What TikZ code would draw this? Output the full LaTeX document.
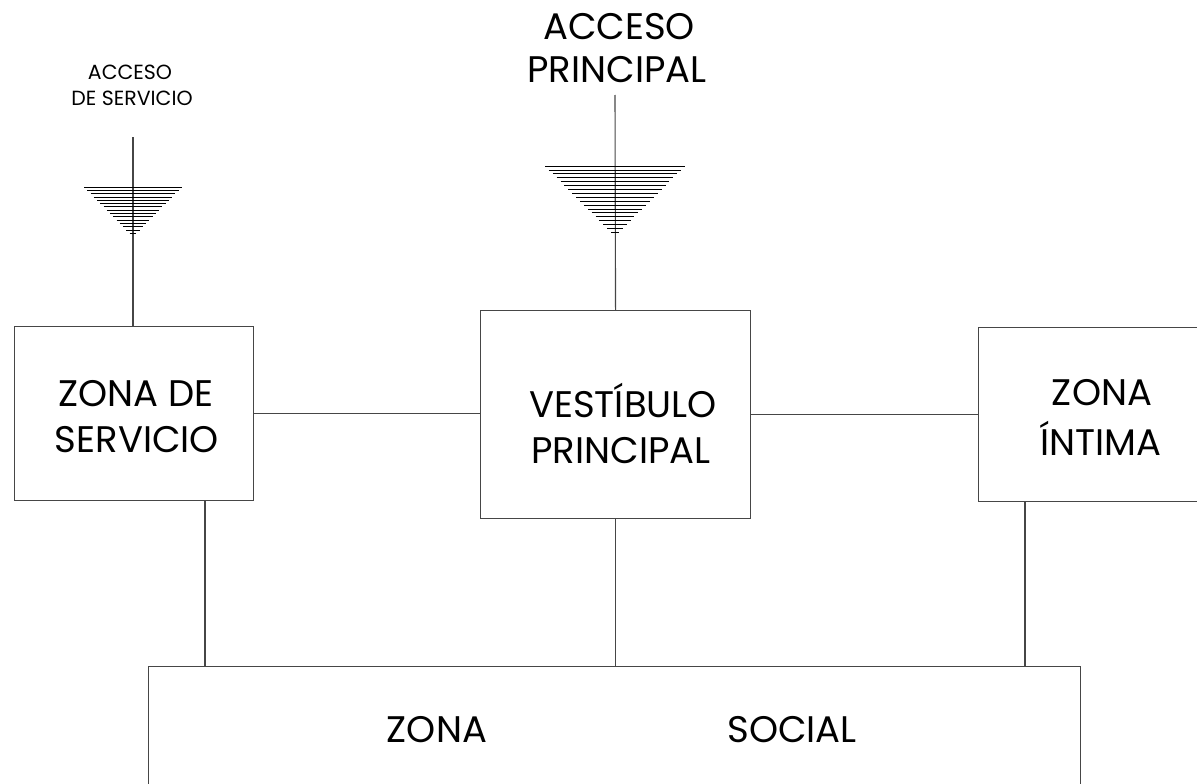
\documentclass[tikz,border=0pt]{standalone}
\usepackage{fontspec}
\setmainfont{Poppins}
\definecolor{edge}{RGB}{70,70,70}
\begin{document}
\begin{tikzpicture}[x=1pt,y=-1pt,
  zone/.style={draw=edge,line width=1.1pt,rectangle,inner sep=0pt,anchor=north west},
  link/.style={draw=edge,line width=1.1pt},
  hatch/.style={draw=black,line width=0.8pt},
  boxtext/.style={font=\fontsize{37}{47}\selectfont,inner sep=0pt,anchor=base},
  smalltext/.style={font=\fontsize{20.5}{26}\selectfont,inner sep=0pt,anchor=base}]
\useasboundingbox (0,0) rectangle (1197,784);
\clip (0,0) rectangle (1197,784);
% boxes
\node[zone,minimum width=239pt,minimum height=174pt] (serv) at (14,326) {};
\node[zone,minimum width=270pt,minimum height=208pt] (vest) at (480,310) {};
\node[zone,minimum width=250pt,minimum height=174pt] (intima) at (978,327) {};
\node[zone,minimum width=932pt,minimum height=160pt] (social) at (148,666) {};
% texts
\node[boxtext] (serv1) at (136,406) {ZONA DE};
\node[boxtext] (serv2) at (137,452) {SERVICIO};
\node[boxtext] (vest1) at (623,417) {VESTÍBULO};
\node[boxtext] (vest2) at (621,463) {PRINCIPAL};
\node[boxtext] (int1) at (1102,405) {ZONA};
\node[boxtext] (int2) at (1101,455) {ÍNTIMA};
\node[boxtext] (soc1) at (437,742) {ZONA};
\node[boxtext] (soc2) at (792,742) {SOCIAL};
\node[smalltext] (acs1) at (130,79) {ACCESO};
\node[smalltext] (acs2) at (132,105) {DE SERVICIO};
\node[boxtext] (acp1) at (619,40) {ACCESO};
\node[boxtext] (acp2) at (617,83) {PRINCIPAL};
% connectors
\draw[link] (serv.east) -- (serv.east -| vest.west);
\draw[link] (vest.east |- intima.west) -- (intima.west);
\coordinate (sv) at (205,500);
\coordinate (it) at (1025,501);
\draw[link] (sv) -- (sv |- social.north);
\draw[link] (vest.south) -- (vest.south |- social.north);
\draw[link] (it) -- (it |- social.north);
\coordinate (ts) at (133,137);
\coordinate (tp) at (615,95);
\draw[link] (ts) -- (ts |- serv.north);
\draw[link] (tp) -- (vest.north);
% hatched triangles
\foreach \i in {0,...,14}{
  \pgfmathsetmacro{\yy}{187+\i*3.3}
  \pgfmathsetmacro{\hw}{49*(1-\i/15)}
  \draw[hatch] (133-\hw,\yy) -- (133+\hw,\yy);
}
\foreach \i in {0,...,17}{
  \pgfmathsetmacro{\yy}{166+\i*3.9}
  \pgfmathsetmacro{\hw}{70*(1-\i/18)}
  \draw[hatch] (615-\hw,\yy) -- (615+\hw,\yy);
}
\end{tikzpicture}
\end{document}
